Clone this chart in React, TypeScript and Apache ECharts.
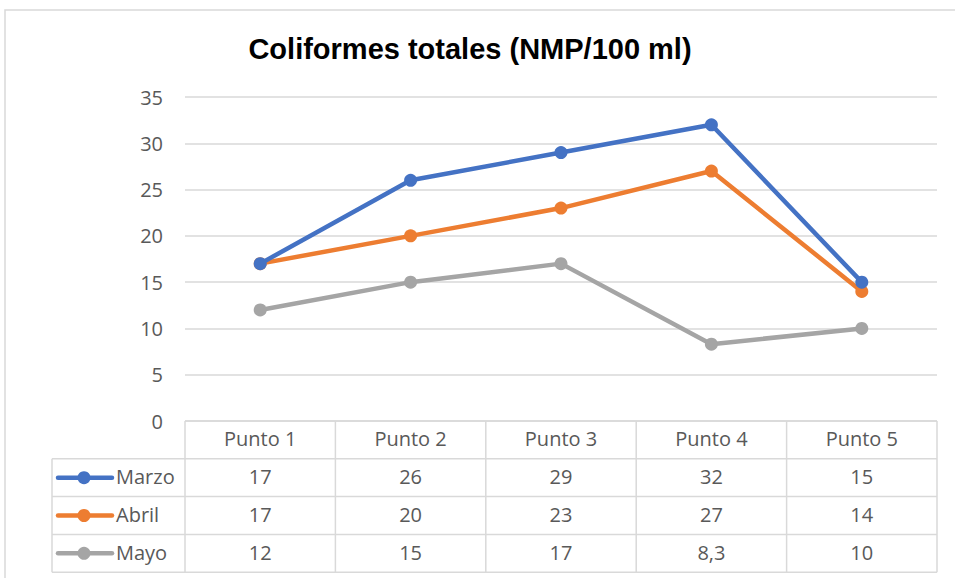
import React, { useEffect, useRef } from "react";
import * as echarts from "echarts";

const categories = ["Punto 1", "Punto 2", "Punto 3", "Punto 4", "Punto 5"];
const seriesNames = ["Marzo", "Abril", "Mayo"];
const marzo = [17, 26, 29, 32, 15];
const abril = [17, 20, 23, 27, 14];
const mayo = [12, 15, 17, 8.3, 10];
const colors = ["#4472C4", "#ED7D31", "#A5A5A5"];
const titleText = "Coliformes totales (NMP/100 ml)";

const W = 955;
const H = 578;
const GRID_L = 185;
const GRID_R = 937;
const GRID_T = 97;
const GRID_B = 421;
const ROW_H = 37.8;
const LABEL_COL_L = 52;
const BORDER = "#D9D9D9";
const TEXT = "#595959";
const FONT = "'Open Sans', sans-serif";
const FS = 20;

export default function App() {
  const ref = useRef<HTMLDivElement>(null);
  useEffect(() => {
    if (!ref.current) return;
    const chart = echarts.init(ref.current, null, { renderer: "svg" });
    const allSeries = [marzo, abril, mayo];
    const colW = (GRID_R - GRID_L) / categories.length;
    const graphics: any[] = [];
    const lineStyle = { stroke: BORDER, lineWidth: 1.5 };
    graphics.push({ type: "rect", shape: { x: 5, y: 10, width: W + 20, height: H + 20 }, style: { fill: "none", stroke: BORDER, lineWidth: 1.5 }, silent: true });
    graphics.push({ type: "line", shape: { x1: GRID_L, y1: GRID_B, x2: GRID_R, y2: GRID_B }, style: lineStyle });
    for (let r = 1; r <= seriesNames.length + 1; r++) {
      const y = GRID_B + ROW_H * r;
      graphics.push({ type: "line", shape: { x1: LABEL_COL_L, y1: y, x2: GRID_R, y2: y }, style: lineStyle });
    }
    const tableBottom = GRID_B + ROW_H * (seriesNames.length + 1);
    graphics.push({ type: "line", shape: { x1: LABEL_COL_L, y1: GRID_B + ROW_H, x2: LABEL_COL_L, y2: tableBottom }, style: lineStyle });
    for (let c = 0; c <= categories.length; c++) {
      const x = GRID_L + colW * c;
      graphics.push({ type: "line", shape: { x1: x, y1: GRID_B, x2: x, y2: tableBottom }, style: lineStyle });
    }
    seriesNames.forEach((name, i) => {
      const cy = GRID_B + ROW_H * (i + 1) + ROW_H / 2;
      graphics.push({ type: "line", shape: { x1: 58, y1: cy, x2: 112, y2: cy }, style: { stroke: colors[i], lineWidth: 4.5, lineCap: "round" } });
      graphics.push({ type: "circle", shape: { cx: 84, cy, r: 6.5 }, style: { fill: colors[i] } });
      graphics.push({ type: "text", x: 116, y: cy - 1, style: { text: name, fill: TEXT, font: `${FS}px ${FONT}`, textAlign: "left", textVerticalAlign: "middle" } });
      allSeries[i].forEach((v, j) => {
        graphics.push({ type: "text", x: GRID_L + colW * (j + 0.5), y: cy - 1, style: { text: String(v).replace(".", ","), fill: TEXT, font: `${FS}px ${FONT}`, textAlign: "center", textVerticalAlign: "middle" } });
      });
    });

    chart.setOption({
      animation: false,
      backgroundColor: "#fff",
      title: {
        text: titleText,
        left: 465,
        top: 29,
        textAlign: "center",
        textStyle: { fontFamily: "'Liberation Sans', Arial, sans-serif", fontWeight: "bold", fontSize: 29, color: "#000" },
      },
      grid: { left: GRID_L, right: W - GRID_R, top: GRID_T, bottom: H - GRID_B },
      xAxis: {
        type: "category",
        data: categories,
        boundaryGap: true,
        axisLine: { show: false },
        axisTick: { show: false },
        axisLabel: { color: TEXT, fontSize: FS, fontFamily: FONT, margin: 7 },
      },
      yAxis: {
        type: "value",
        min: 0,
        max: 35,
        interval: 5,
        axisLine: { show: false },
        axisTick: { show: false },
        axisLabel: { color: TEXT, fontSize: FS, fontFamily: FONT, margin: 22 },
        splitLine: { lineStyle: { color: BORDER, width: 1.5 } },
      },
      series: seriesNames.map((name, i) => ({
        name,
        type: "line",
        data: allSeries[i],
        symbol: "circle",
        symbolSize: 13,
        itemStyle: { color: colors[i] },
        lineStyle: { color: colors[i], width: 4.5 },
        z: 3 - i + 2,
      })),
      graphic: graphics,
    });
    return () => chart.dispose();
  }, []);
  return <div ref={ref} style={{ width: W, height: H, position: "absolute", left: 0, top: 0 }} />;
}
